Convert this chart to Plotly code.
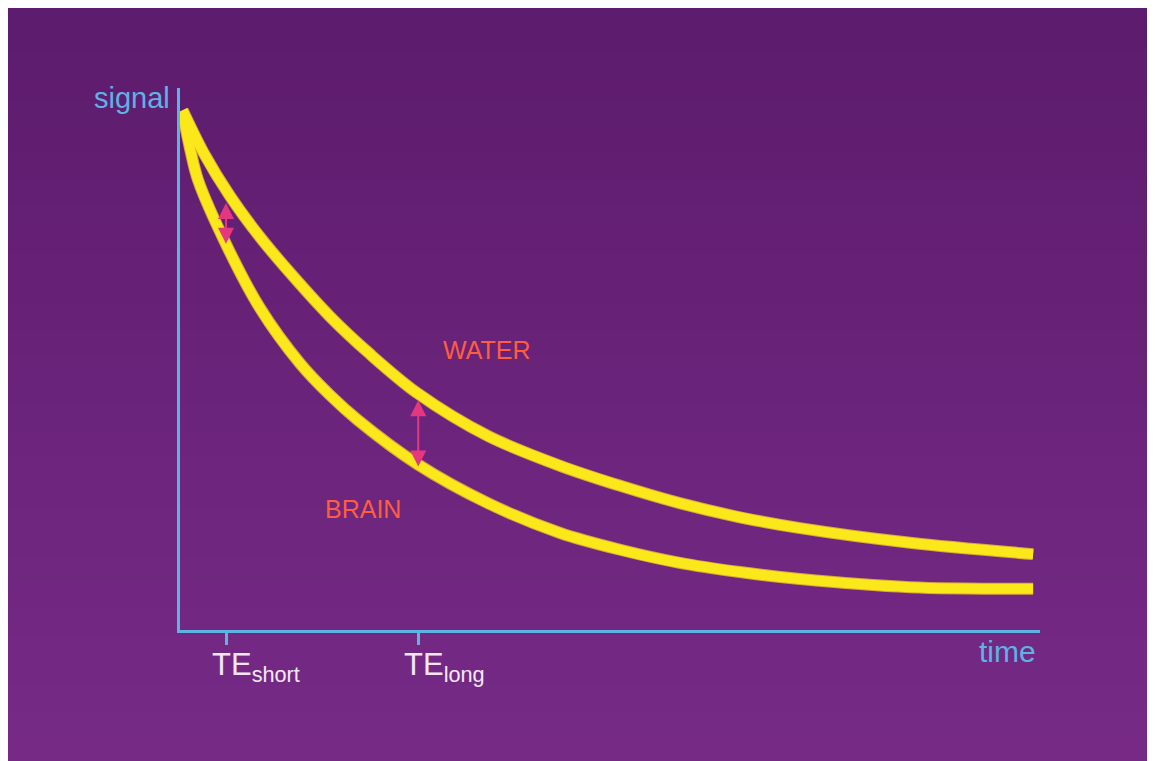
import plotly.graph_objects as go

# ---- data (time in arbitrary units, signal in % of initial) ----
water_time = [0.03, 0.29, 0.58, 0.93, 1.28, 1.74, 2.21, 2.76, 3.58, 4.42, 5.12, 5.81, 6.51, 7.21, 8.49, 9.92]
water_signal = [95.9, 87.6, 80.1, 72.5, 65.9, 57.9, 50.9, 43.7, 35.8, 30.3, 26.6, 23.4, 20.8, 18.8, 16.1, 14.0]

brain_time = [0.03, 0.12, 0.21, 0.55, 0.93, 1.40, 1.74, 2.07, 2.76, 3.58, 4.42, 5.12, 5.81, 6.51, 7.21, 8.49, 9.92]
brain_signal = [95.6, 88.6, 83.0, 70.7, 59.4, 49.1, 43.4, 38.7, 30.6, 23.4, 17.9, 14.8, 12.4, 10.7, 9.4, 7.9, 7.6]

te_values = [0.535, 2.77]
te_labels = ["TE<sub>short</sub>", "TE<sub>long</sub>"]
arrow_top = [78.8, 42.4]
arrow_bottom = [71.0, 29.9]

FONT = "Liberation Sans, Arial, Helvetica, sans-serif"
YELLOW = "#fae81a"
EDGE = "#d9a53a"
AXIS = "#5db3e4"
PINK = "#e5377f"
LABEL = "#ff5d3f"
WHITE = "#f5e6f5"

# page offset (browser body margin)
OFF = 8
L, R, T, B = 180, 1040, 88, 630   # plot area in page pixels

fig = go.Figure()
for t, s in [(water_time, water_signal), (brain_time, brain_signal)]:
    fig.add_trace(go.Scatter(x=t, y=s, mode="lines",
                             line=dict(color=EDGE, width=12, shape="spline", smoothing=0.9),
                             hoverinfo="skip", showlegend=False))
for t, s in [(water_time, water_signal), (brain_time, brain_signal)]:
    fig.add_trace(go.Scatter(x=t, y=s, mode="lines",
                             line=dict(color=YELLOW, width=10, shape="spline", smoothing=0.9),
                             showlegend=False))

def px_to_paper_y(py):
    return (B - py) / (B - T)

def px_to_paper_x(px):
    return (px - L) / (R - L)

# background vertical gradient (stacked, no gaps)
shapes = []
top_px, bot_px = 0, 761
n = 30
c0 = (93, 28, 109)
c1 = (118, 42, 134)
for i in range(n):
    y0p = top_px + (bot_px - top_px) * i / n
    f = i / (n - 1)
    col = "rgb(%d,%d,%d)" % tuple(round(a + (b - a) * f) for a, b in zip(c0, c1))
    shapes.append(dict(type="rect", xref="paper", yref="paper", layer="below",
                       x0=px_to_paper_x(0), x1=px_to_paper_x(1150),
                       y0=px_to_paper_y(bot_px + 10), y1=px_to_paper_y(y0p),
                       fillcolor=col, line=dict(width=0)))

annotations = []
for x, yt, yb in zip(te_values, arrow_top, arrow_bottom):
    annotations.append(dict(x=x, y=yt, ax=x, ay=yb, xref="x", yref="y", axref="x", ayref="y",
                            text="", showarrow=True, arrowhead=2, startarrowhead=2,
                            arrowside="end+start", arrowsize=1.6, startarrowsize=1.6,
                            arrowwidth=2, arrowcolor=PINK))
for x, lab in zip(te_values, te_labels):
    annotations.append(dict(x=x, y=-0.028, xref="x", yref="paper", xanchor="left", yanchor="top",
                            xshift=-16, text=lab, showarrow=False,
                            font=dict(family=FONT, size=31, color=WHITE)))
annotations += [
    dict(x=px_to_paper_x(172), y=px_to_paper_y(98), xref="paper", yref="paper",
         xanchor="right", yanchor="middle", text="signal", showarrow=False,
         font=dict(family=FONT, size=29, color=AXIS)),
    dict(x=px_to_paper_x(1007), y=px_to_paper_y(651), xref="paper", yref="paper",
         xanchor="center", yanchor="middle", text="time", showarrow=False,
         font=dict(family=FONT, size=30, color=AXIS)),
    dict(x=3.57, y=51.7, xref="x", yref="y", text="WATER", showarrow=False,
         font=dict(family=FONT, size=25, color=LABEL)),
    dict(x=2.13, y=22.3, xref="x", yref="y", text="BRAIN", showarrow=False,
         font=dict(family=FONT, size=25, color=LABEL)),
    dict(x=10.21, y=13.8, xref="x", yref="y", text="B", showarrow=False,
         font=dict(family=FONT, size=27, color=WHITE)),
    dict(x=10.21, y=7.2, xref="x", yref="y", text="A", showarrow=False,
         font=dict(family=FONT, size=27, color=WHITE)),
]

fig.update_layout(
    width=1155, height=761,
    margin=dict(l=L - OFF, r=1155 - (R - OFF), t=T - OFF, b=761 - (B - OFF)),
    paper_bgcolor="#f3eef2",
    plot_bgcolor="rgba(0,0,0,0)",
    shapes=shapes,
    annotations=annotations,
    showlegend=False,
    xaxis=dict(range=[0, 10], showgrid=False, zeroline=False, showline=True,
               linecolor=AXIS, linewidth=3, ticks="outside", ticklen=12,
               tickwidth=3, tickcolor=AXIS, tickvals=te_values, showticklabels=False),
    yaxis=dict(range=[0, 100], showgrid=False, zeroline=False, showline=True,
               linecolor=AXIS, linewidth=3, showticklabels=False, ticks=""),
)

fig.write_html("out.html")
